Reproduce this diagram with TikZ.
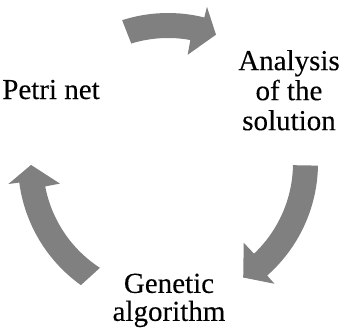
\documentclass[tikz,border=0pt]{standalone}
\usepackage{fontspec}
\setmainfont{Liberation Serif}
\newfontfamily\timesface[FakeBold=0.2]{Liberation Serif}
\definecolor{arrowgray}{RGB}{128,128,128}
% #1 tail outer angle, #2 tail inner angle, #3 head outer angle, #4 head inner angle, #5 tip angle
\newcommand\cycarrow[5]{%
  \fill[cyc] ($(C)+(#1:150)$) arc[start angle=#1,end angle=#3,radius=150]
    -- ($(C)+(#3:161)$) -- ($(C)+(#5:137)$) -- ($(C)+(#4:110)$) -- ($(C)+(#4:125)$)
    arc[start angle=#4,end angle=#2,radius=125] -- cycle;}
\usetikzlibrary{calc}
\begin{document}
\begin{tikzpicture}[x=1pt,y=1pt]
\tikzset{cyc/.style={fill=arrowgray,draw=none},
  lbl/.style={inner sep=0pt,align=center,text=black}}
\useasboundingbox (0,0) rectangle (339,330);
\coordinate (C) at (168,167);
\cycarrow{107.8}{107.1}{76}{79.7}{69.5}
\cycarrow{-1}{-1}{-48.6}{-46.5}{-56.7}
\cycarrow{234.5}{237}{187.5}{190.8}{180.8}
\node[lbl,anchor=base,font=\timesface\fontsize{29}{30}\selectfont] (petri) at (51,231) {Petri net};
\node[lbl,font=\timesface\fontsize{29}{30}\selectfont] (analysis) at (289,239.75) {Analysis\\of the\\solution};
\node[lbl,font=\timesface\fontsize{29}{28}\selectfont] (genetic) at (169,29.6) {Genetic\\algorithm};
\end{tikzpicture}
\end{document}
